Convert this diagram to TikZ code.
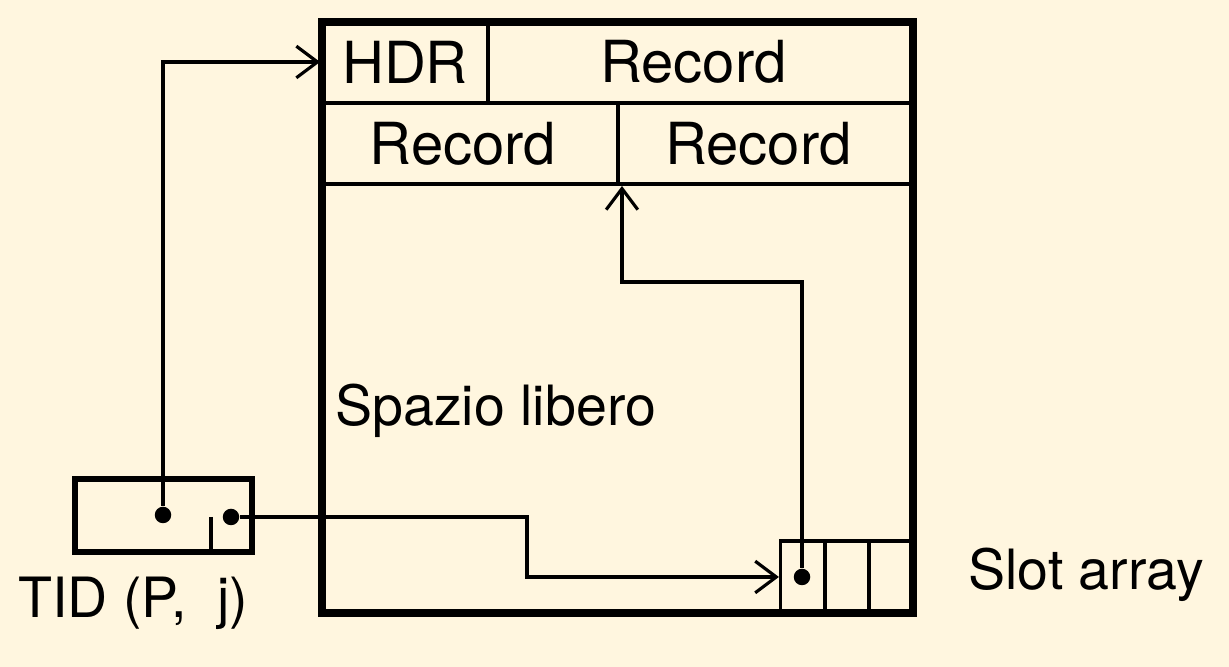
\documentclass[tikz,border=0pt]{standalone}
\usepackage{fontspec}
\setmainfont{TeX Gyre Heros}
\usetikzlibrary{arrows.meta}

\definecolor{fondo}{HTML}{FFF6DF}

\begin{document}
\begin{tikzpicture}[
    font=\fontsize{16.5}{20}\selectfont,
    cella/.style={draw, line width=1.1pt, inner sep=0pt, minimum height=0.81cm},
    slot/.style={draw, line width=0.9pt, inner sep=0pt, minimum width=0.44cm, minimum height=0.72cm},
    freccia/.style={line width=0.9pt, -{Straight Barb[length=6pt, width=9pt, line width=0.9pt]}},
    punto/.style={circle, fill, inner sep=0pt, minimum size=0.165cm},
    etichetta/.style={anchor=west, font=\fontsize{15.8}{19}\selectfont}
]

% Fondo y margenes
\fill[fondo] (0,0) rectangle (12.29,6.67);
\useasboundingbox (0,0) rectangle (12.29,6.67);

% 1. Pagina: celdas de la cabecera
\node[cella, minimum width=1.66cm] (hdr) at (4.05,6.05) {HDR};
\node[cella, minimum width=4.25cm] (rec1) at (7.005,6.05) {Record\kern0.14cm};
\node[cella, minimum width=2.96cm] (rec2) at (4.70,5.235) {Record\kern0.14cm};
\node[cella, minimum width=2.95cm] (rec3) at (7.655,5.235) {Record\kern0.14cm};

% 2. Slot array (tres casillas)
\node[slot] (s1) at (8.025,0.90) {};
\node[slot] (s2) at (8.47,0.90) {};
\node[slot] (s3) at (8.91,0.90) {};

% 3. Contorno de la pagina (encima de las celdas)
\node[draw, line width=2.3pt, minimum width=5.91cm, minimum height=5.91cm, inner sep=0pt] (pagina) at (6.175,3.495) {};

% 4. TID
\node[draw, line width=1.7pt, minimum width=1.77cm, minimum height=0.73cm, inner sep=0pt] (tid) at (1.635,1.515) {};
\draw[line width=1.1pt] (2.11,1.50) -- (2.11,1.15);
\node[punto] (pdot) at (1.63,1.52) {};
\node[punto] (jdot) at (2.31,1.50) {};
\node[punto] (sdot) at (8.02,0.90) {};

% 5. Punteros
\draw[freccia] (pdot) |- (hdr.west);
\draw[freccia] (jdot) -- (5.27,1.50) coordinate (giro) |- (s1.west);
\draw[freccia] (sdot) -- (8.02,3.85) -- (6.22,3.85) coordinate (codo) -- (codo |- rec3.south);

% 6. Textos
\node[etichetta] (libero) at (3.23,2.56) {Spazio libero};
\node[etichetta] (slotarr) at (9.56,0.92) {Slot array};
\node[etichetta] (tidlab) at (0.06,0.64) {TID (P,\ \ j)};

\end{tikzpicture}
\end{document}
